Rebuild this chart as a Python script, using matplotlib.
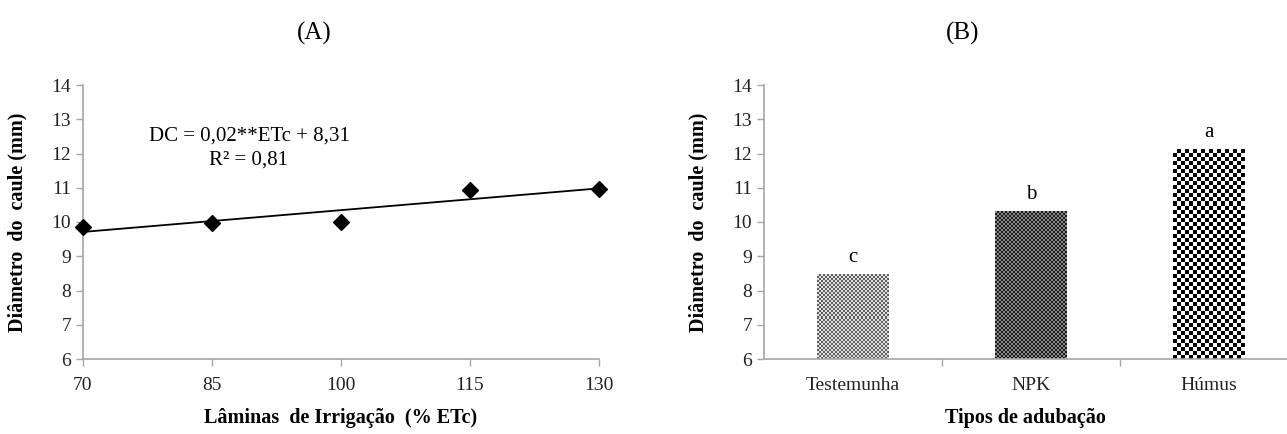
import numpy as np
import matplotlib
matplotlib.use("Agg")
import matplotlib.pyplot as plt

plt.rcParams['font.family'] = ['Liberation Serif', 'DejaVu Serif']

# panel A: irrigation depths
laminas = [70, 85, 100, 115, 130]
diametro_a = [9.85, 9.98, 10.01, 10.92, 10.97]

# panel B: fertiliser types
tipos = ['Testemunha', 'NPK', 'Húmus']
diametro_b = [8.48, 10.32, 12.13]
letras = ['c', 'b', 'a']

AXIS = '#a6a6a6'
W, H = 1287, 434

fig = plt.figure(figsize=(W / 100, H / 100), dpi=100, facecolor='white')


def style_axes(ax):
    for s in ['top', 'right']:
        ax.spines[s].set_visible(False)
    for s in ['left', 'bottom']:
        ax.spines[s].set_color(AXIS)
        ax.spines[s].set_linewidth(1.2)
    ax.tick_params(axis='both', which='both', colors=AXIS, labelcolor='#222222',
                   labelsize=14, length=5, width=1.0, direction='out')
    ax.set_ylim(6, 14)
    ax.set_yticks(range(6, 15))


# ---- (A) ----
axA = fig.add_axes([83 / W, 1 - 359 / H, (599 - 83) / W, (359 - 85) / H])
style_axes(axA)
axA.set_xlim(70, 130)
axA.set_xticks(laminas)
axA.tick_params(axis='x', pad=8)

coef = np.polyfit(laminas, diametro_a, 1)
xs = np.array([laminas[0], laminas[-1]])
axA.plot(xs, np.polyval(coef, xs), color='black', lw=1.3, zorder=2)
axA.scatter(laminas, diametro_a, marker='D', s=65, color='black', zorder=3, clip_on=False)

axA.text(89.3, 12.5, 'DC = 0,02**ETc + 8,31', ha='center', va='center', fontsize=15)
axA.text(89.3, 11.82, 'R² = 0,81', ha='center', va='center', fontsize=15)

axA.set_ylabel('Diâmetro  do  caule (mm)', fontsize=14.5, fontweight='bold')
axA.yaxis.set_label_coords(-0.108, 0.5)
axA.set_xlabel('Lâminas  de Irrigação  (% ETc)', fontsize=14.5, fontweight='bold')
axA.xaxis.set_label_coords(0.5, -0.18)

# ---- (B) ----
axB = fig.add_axes([764 / W, 1 - 359 / H, (W - 764) / W, (359 - 85) / H])
style_axes(axB)
axB.spines['bottom'].set_bounds(-0.5, 2.5)
axB.set_xlim(-0.5, 2.44)
axB.set_xticks(range(len(tipos)))
axB.set_xticklabels(tipos)
axB.set_xticks([0.5, 1.5], minor=True)
axB.tick_params(axis='x', which='major', length=0, pad=13)
axB.tick_params(axis='x', which='minor', length=5)

bars = axB.bar(range(len(tipos)), [v - 6 for v in diametro_b], bottom=6,
               width=0.4, color='white', edgecolor='none', zorder=2)


def checker(nx, ny, c1, c2):
    img = np.zeros((ny, nx, 3))
    mask = (np.add.outer(np.arange(ny), np.arange(nx)) % 2).astype(bool)
    img[mask] = matplotlib.colors.to_rgb(c1)
    img[~mask] = matplotlib.colors.to_rgb(c2)
    return img


textures = [('#5e5e5e', '#e0e0e0', 2), ('#1a1a1a', '#8a8a8a', 2), ('#000000', '#ffffff', 4)]
px_per_unit_x = (W - 764) / 2.94
px_per_unit_y = (359 - 85) / 8.0
for bar, (c1, c2, cell) in zip(bars, textures):
    x0, w = bar.get_x(), bar.get_width()
    y0, h = bar.get_y(), bar.get_height()
    nx = max(1, int(round(w * px_per_unit_x / cell)))
    ny = max(1, int(round(h * px_per_unit_y / cell)))
    im = axB.imshow(checker(nx, ny, c1, c2), extent=[x0, x0 + w, y0, y0 + h],
                    interpolation='nearest', aspect='auto', zorder=2)
    im.set_clip_path(bar)

for i, (v, l) in enumerate(zip(diametro_b, letras)):
    axB.text(i, v + 0.47, l, ha='center', va='center', fontsize=15)

axB.set_ylabel('Diâmetro  do  caule (mm)', fontsize=14.5, fontweight='bold')
axB.yaxis.set_label_coords(-0.107, 0.5)
axB.set_xlabel('Tipos de adubação', fontsize=14.5, fontweight='bold')
axB.xaxis.set_label_coords(0.5, -0.18)

fig.text(314 / W, 1 - 33 / H, '(A)', ha='center', va='center', fontsize=18)
fig.text(963 / W, 1 - 33 / H, '(B)', ha='center', va='center', fontsize=18)

fig.savefig('out.png', dpi=100, facecolor='white')
